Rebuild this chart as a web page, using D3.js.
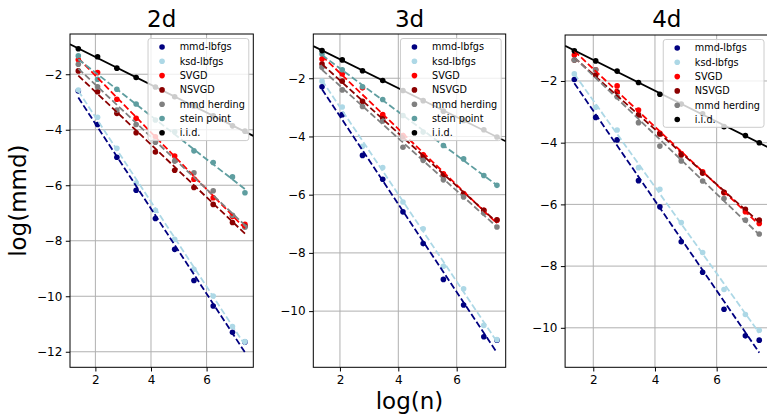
<!DOCTYPE html>
<html>
  <head>
    <meta http-equiv="Content-Type" content="text/html;charset=utf-8"/>
    <script src="https://cdn.jsdelivr.net/npm/d3@7"></script>
    <style>
      body { margin: 0; background: #fff; }
      text { font-family: "DejaVu Sans", sans-serif; }
    </style>
  </head>
  <body>
    <script type="text/javascript">

// log(n) for n = 4, 8, ..., 1024, 1600
var logN = [1.386, 2.079, 2.773, 3.466, 4.159, 4.852, 5.545, 6.238, 6.931, 7.38];

var titles = ["2d", "3d", "4d"];
var seriesNames = ["mmd-lbfgs", "ksd-lbfgs", "SVGD", "NSVGD", "mmd herding", "stein point", "i.i.d."];
var seriesColors = ["#000080", "#add8e6", "#ff0000", "#8b0000", "#808080", "#5f9ea0", "#000000"];
var xTicks = [2, 4, 6];
var yTicks = [[-12, -10, -8, -6, -4, -2], [-10, -8, -6, -4, -2], [-10, -8, -6, -4, -2]];

// log(mmd), one row per panel (2d, 3d, 4d)
var mmdLbfgs = [
  [-2.60, -3.81, -4.99, -6.18, -7.20, -8.31, -9.43, -10.35, -11.30, -11.65],
  [-2.29, -3.25, -4.65, -5.47, -6.59, -7.68, -8.91, -9.79, -10.88, -11.0],
  [-1.95, -3.18, -3.91, -5.23, -6.08, -7.21, -8.20, -9.40, -10.26, -10.40]
];
var ksdLbfgs = [
  [-2.57, -3.55, -4.67, -5.92, -6.90, -7.95, -9.03, -9.99, -11.09, -11.63],
  [-2.10, -2.99, -4.34, -5.07, -6.25, -7.17, -8.46, -9.23, -10.49, -10.98],
  [-1.77, -2.85, -3.59, -4.81, -5.51, -6.59, -7.56, -8.76, -9.57, -10.08]
];
var svgd = [
  [-1.48, -1.94, -2.90, -3.59, -4.25, -4.95, -5.78, -6.45, -7.12, -7.41],
  [-1.34, -1.85, -2.33, -3.25, -3.97, -4.63, -5.28, -5.97, -6.54, -6.88],
  [-1.16, -1.64, -2.16, -2.94, -3.70, -4.35, -4.94, -5.62, -6.24, -6.62]
];
var nsvgd = [
  [-1.88, -2.63, -3.41, -4.11, -4.80, -5.46, -6.08, -6.69, -7.34, -7.48],
  [-1.51, -2.10, -2.79, -3.39, -4.02, -4.71, -5.34, -5.97, -6.54, -6.86],
  [-1.32, -1.81, -2.35, -3.10, -3.72, -4.40, -4.99, -5.61, -6.16, -6.51]
];
var mmdHerding = [
  [-1.64, -2.45, -3.29, -3.81, -4.45, -5.13, -5.55, -6.20, -7.08, -7.51],
  [-1.62, -2.40, -2.97, -3.47, -4.37, -4.82, -5.49, -6.08, -6.63, -7.11],
  [-1.32, -1.64, -2.51, -3.35, -4.11, -4.59, -5.24, -5.81, -6.51, -6.96]
];
var steinPoint = [
  [-1.34, -2.18, -2.54, -3.07, -3.65, -4.07, -4.76, -5.18, -5.70, -6.27],
  [-1.17, -1.71, -2.29, -2.73, -3.28, -3.85, -4.31, -4.77, -5.34, -5.68],
  null
];
var iid = [
  [-1.08, -1.37, -1.78, -2.12, -2.46, -2.81, -3.14, -3.50, -3.86, -4.05],
  [-1.05, -1.37, -1.74, -2.08, -2.42, -2.77, -3.13, -3.45, -3.77, -4.02],
  [-1.02, -1.35, -1.68, -2.05, -2.43, -2.75, -3.06, -3.48, -3.77, -4.00]
];
var allSeries = [mmdLbfgs, ksdLbfgs, svgd, nsvgd, mmdHerding, steinPoint, iid];

// layout of the three axes boxes (pixels) and their y ranges
var boxes = [
  {left: 70, right: 253.3, top: 34, bottom: 367.3, yDom: [-12.56, -0.55]},
  {left: 313.3, right: 505.7, top: 34, bottom: 367.3, yDom: [-11.93, -0.48]},
  {left: 565.1, right: 768.5, top: 35, bottom: 367.3, yDom: [-11.28, -0.51]}
];
var xDom = [1.087, 7.68];

var svg = d3.select("body").append("svg")
  .attr("width", 767)
  .attr("height", 415);

function fit(xs, ys) {
  var mx = d3.mean(xs), my = d3.mean(ys);
  var num = d3.sum(xs, function(x, i) { return (x - mx) * (ys[i] - my); });
  var den = d3.sum(xs, function(x) { return (x - mx) * (x - mx); });
  var b = num / den;
  return function(x) { return my + b * (x - mx); };
}

function fmt(v) { return String(v).replace("-", "\u2212"); }

boxes.forEach(function(b, p) {
  var x = d3.scaleLinear().domain(xDom).range([b.left, b.right]);
  var y = d3.scaleLinear().domain(b.yDom).range([b.bottom, b.top]);
  var g = svg.append("g");

  g.append("clipPath").attr("id", "clip" + p)
    .append("rect")
    .attr("x", b.left).attr("y", b.top)
    .attr("width", b.right - b.left).attr("height", b.bottom - b.top);

  // grid
  g.selectAll(".gx").data(xTicks).enter().append("line")
    .attr("x1", d => x(d)).attr("x2", d => x(d))
    .attr("y1", b.top).attr("y2", b.bottom)
    .attr("stroke", "#b0b0b0").attr("stroke-width", 1);
  g.selectAll(".gy").data(yTicks[p]).enter().append("line")
    .attr("y1", d => y(d)).attr("y2", d => y(d))
    .attr("x1", b.left).attr("x2", b.right)
    .attr("stroke", "#b0b0b0").attr("stroke-width", 1);

  var plot = g.append("g").attr("clip-path", "url(#clip" + p + ")");

  // points first, fitted lines on top (matplotlib z-order)
  var shown = [];
  allSeries.forEach(function(s, k) {
    if (!s[p]) return;
    shown.push(k);
    plot.selectAll(".pt" + k).data(s[p]).enter().append("circle")
      .attr("cx", (d, i) => x(logN[i]))
      .attr("cy", d => y(d))
      .attr("r", 2.8)
      .attr("fill", seriesColors[k]);
  });
  shown.forEach(function(k) {
    var f = fit(logN, allSeries[k][p]);
    var solid = seriesNames[k] === "i.i.d.";
    var xs = solid ? xDom : [logN[0], logN[logN.length - 1]];
    plot.append("line")
      .attr("x1", x(xs[0])).attr("y1", y(f(xs[0])))
      .attr("x2", x(xs[1])).attr("y2", y(f(xs[1])))
      .attr("stroke", seriesColors[k])
      .attr("stroke-width", 1.8)
      .attr("stroke-dasharray", solid ? null : "6.5,2.8");
  });

  // axes
  var ax = g.append("g").attr("transform", "translate(0," + b.bottom + ")")
    .call(d3.axisBottom(x).tickValues(xTicks).tickSize(4.2).tickPadding(3.5).tickFormat(fmt));
  var ay = g.append("g").attr("transform", "translate(" + b.left + ",0)")
    .call(d3.axisLeft(y).tickValues(yTicks[p]).tickSize(4.2).tickPadding(3.5).tickFormat(fmt));
  [ax, ay].forEach(function(a) {
    a.select(".domain").remove();
    a.selectAll("text").attr("font-size", 12).attr("fill", "#000")
      .style("font-family", "DejaVu Sans");
    a.selectAll("line").attr("stroke", "#000").attr("stroke-width", 1);
  });

  g.append("rect")
    .attr("x", b.left).attr("y", b.top)
    .attr("width", b.right - b.left).attr("height", b.bottom - b.top)
    .attr("fill", "none").attr("stroke", "#000").attr("stroke-width", 1);

  g.append("text")
    .attr("x", (b.left + b.right) / 2).attr("y", 26.5)
    .attr("text-anchor", "middle").attr("font-size", 23)
    .text(titles[p]);

  // legend
  var lg = g.append("g");
  var rowH = 14.3;
  var box = lg.append("rect").attr("rx", 2.5)
    .attr("fill", "#fff").attr("fill-opacity", 0.8)
    .attr("stroke", "#cccccc").attr("stroke-width", 1);
  var items = lg.selectAll(".it").data(shown).enter().append("g");
  items.append("circle").attr("r", 2.8).attr("fill", k => seriesColors[k])
    .attr("cx", 14).attr("cy", (k, i) => 8.5 + i * rowH);
  var labels = items.append("text").attr("x", 31.6).attr("y", (k, i) => 8.5 + i * rowH)
    .attr("dy", "0.35em").attr("font-size", 9.7).text(k => seriesNames[k]);
  var tw = d3.max(labels.nodes(), n => n.getComputedTextLength());
  var lw = 31.6 + tw + 4, lh = shown.length * rowH + 2;
  box.attr("width", lw).attr("height", lh);
  lg.attr("transform", "translate(" + (b.right - 4.5 - lw) + "," + (b.top + 4.5) + ")");
});

svg.append("text")
  .attr("x", (boxes[1].left + boxes[1].right) / 2).attr("y", 408.5)
  .attr("text-anchor", "middle").attr("font-size", 23)
  .text("log(n)");

svg.append("text")
  .attr("transform", "translate(25.8," + (boxes[0].top + boxes[0].bottom) / 2 + ") rotate(-90)")
  .attr("text-anchor", "middle").attr("font-size", 23)
  .text("log(mmd)");

    </script>
  </body>
</html>
